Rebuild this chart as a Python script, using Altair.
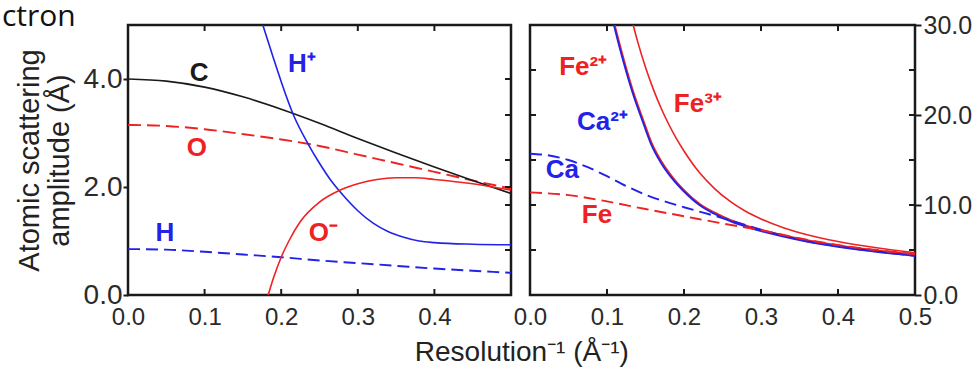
import altair as alt
import pandas as pd

# ---------------- data ----------------
# Left panel: x = resolution^-1 (1/Å), y = atomic scattering amplitude (Å)
grid_x = [0.0, 0.05, 0.10, 0.15, 0.20, 0.25, 0.30, 0.35, 0.40, 0.45, 0.50]
C_y = [4.00, 3.96, 3.85, 3.67, 3.44, 3.18, 2.90, 2.63, 2.37, 2.12, 1.88]
O_y = [3.15, 3.13, 3.07, 2.98, 2.88, 2.76, 2.60, 2.44, 2.28, 2.12, 1.97]
H_y = [0.85, 0.84, 0.80, 0.75, 0.70, 0.64, 0.59, 0.54, 0.49, 0.45, 0.41]
Hplus_x = [0.176, 0.19, 0.20, 0.217, 0.235, 0.25, 0.265, 0.28, 0.30, 0.32, 0.34, 0.36, 0.38, 0.40, 0.45, 0.50]
Hplus_y = [5.00, 4.38, 3.95, 3.30, 2.80, 2.44, 2.12, 1.86, 1.56, 1.33, 1.17, 1.07, 1.00, 0.97, 0.94, 0.93]
Ominus_x = [0.183, 0.19, 0.20, 0.21, 0.225, 0.25, 0.275, 0.30, 0.325, 0.35, 0.375, 0.40, 0.45, 0.50]
Ominus_y = [0.00, 0.32, 0.70, 1.00, 1.36, 1.72, 1.93, 2.06, 2.14, 2.17, 2.17, 2.14, 2.06, 1.94]

# Right panel (right-hand scale 0-30)
Ca_x = [0.0, 0.025, 0.05, 0.075, 0.10, 0.125, 0.15, 0.175, 0.20, 0.225, 0.25, 0.275, 0.30, 0.35, 0.40, 0.45, 0.50]
Ca_y = [15.7, 15.5, 15.0, 14.2, 13.2, 12.1, 11.15, 10.4, 9.75, 9.15, 8.55, 7.9, 7.25, 6.15, 5.4, 4.85, 4.35]
Fe_y = [11.4, 11.1, 10.4, 9.55, 8.75, 7.95, 7.2, 6.3, 5.55, 5.0, 4.55]
Ca2_x = [0.109, 0.116, 0.125, 0.135, 0.145, 0.157, 0.17, 0.185, 0.20, 0.22, 0.24, 0.26, 0.28, 0.30, 0.35, 0.40, 0.45, 0.50]
Ca2_y = [30.0, 27.6, 24.8, 22.0, 19.6, 16.8, 14.7, 12.9, 11.5, 10.0, 9.0, 8.2, 7.6, 7.1, 6.1, 5.35, 4.8, 4.35]
Fe2_x = [0.110, 0.117, 0.126, 0.136, 0.146, 0.158, 0.171, 0.186, 0.20, 0.22, 0.24, 0.26, 0.28, 0.30, 0.35, 0.40, 0.45, 0.50]
Fe2_y = [30.0, 27.7, 24.9, 22.1, 19.7, 16.9, 14.8, 13.0, 11.65, 10.15, 9.15, 8.35, 7.75, 7.25, 6.25, 5.5, 4.95, 4.5]
Fe3_x = [0.134, 0.14, 0.15, 0.16, 0.17, 0.18, 0.19, 0.20, 0.22, 0.24, 0.26, 0.28, 0.30, 0.33, 0.36, 0.40, 0.45, 0.50]
Fe3_y = [30.0, 28.1, 25.3, 22.9, 20.8, 19.0, 17.4, 16.0, 13.6, 11.8, 10.4, 9.3, 8.45, 7.45, 6.7, 5.95, 5.25, 4.7]

# Curve labels
left_labels = ["C", "O", "H", "H⁺", "O⁻"]
left_label_series = ["C", "O", "H", "H+", "O-"]
left_label_x = [0.093, 0.090, 0.048, 0.227, 0.255]
left_label_y = [4.11, 2.72, 1.15, 4.28, 1.15]
right_labels = ["Fe²⁺", "Ca²⁺", "Fe³⁺", "Ca", "Fe"]
right_label_series = ["Fe2+", "Ca2+", "Fe3+", "Ca", "Fe"]
right_label_x = [0.069, 0.094, 0.218, 0.042, 0.087]
right_label_y = [25.3, 19.2, 21.2, 13.9, 8.9]

# Axis tick values
left_x_labels = [0.0, 0.1, 0.2, 0.3, 0.4]
right_x_labels = [0.0, 0.1, 0.2, 0.3, 0.4, 0.5]
inner_x_ticks = [0.1, 0.2, 0.3, 0.4]
left_y_labels = [0.0, 2.0, 4.0]
left_panel_right_ticks = [0.833, 1.667, 2.0, 2.5, 3.333, 4.0]
right_y_labels = [0.0, 10.0, 20.0, 30.0]
right_inner_y_ticks = [5.0, 10.0, 15.0, 20.0, 25.0]

crop_text = "ctron"
x_title = "Resolution⁻¹ (Å⁻¹)"
y_title = ["Atomic scattering", "amplitude (Å)"]

# ---------------- styling ----------------
RED = "#ee2222"
BLUE = "#2222e8"
BLACK = "#1a1a1a"
FONT = "Liberation Sans"
W1, W2, H = 383, 385, 270
TICK = 6

left_series = ["C", "O", "H", "H+", "O-"]
left_colors = [BLACK, RED, BLUE, BLUE, RED]
right_series = ["Fe2+", "Ca2+", "Fe3+", "Ca", "Fe"]
right_colors = [RED, BLUE, RED, BLUE, RED]


def line_layer(xs, ys, color, xenc, yenc, dash=None, width=1.6):
    kw = dict(color=color, strokeWidth=width, interpolate="monotone", clip=True)
    if dash:
        kw["strokeDash"] = dash
    return alt.Chart(pd.DataFrame({"x": xs, "y": ys})).mark_line(**kw).encode(x=xenc, y=yenc)


def x_edge_ticks(vals, xenc, top=True):
    y0, y1 = (0, TICK) if top else (H, H - TICK)
    return alt.Chart(pd.DataFrame({"x": vals})).mark_rule(color=BLACK, strokeWidth=2).encode(
        x=xenc, y=alt.value(y0), y2=alt.value(y1))


def y_edge_ticks(vals, yenc, xpix, inward):
    return alt.Chart(pd.DataFrame({"y": vals})).mark_rule(color=BLACK, strokeWidth=2).encode(
        y=yenc, x=alt.value(xpix), x2=alt.value(xpix + inward))


def label_layer(texts, series, xs, ys, domain, colors, xenc, yenc):
    df = pd.DataFrame({"label": texts, "series": series, "x": xs, "y": ys})
    return alt.Chart(df).mark_text(font=FONT, fontSize=26, fontWeight="bold",
                                   align="center", baseline="middle").encode(
        x=xenc, y=yenc, text="label:N",
        color=alt.Color("series:N", scale=alt.Scale(domain=domain, range=colors), legend=None))


# ---------------- left panel ----------------
xl = alt.X("x:Q", scale=alt.Scale(domain=[0, 0.5], nice=False, zero=False),
           axis=alt.Axis(values=left_x_labels, format=".1f", ticks=False, tickSize=0,
                         labelPadding=10, labelFontSize=24, labelFlush=False, title=None))
yl = alt.Y("y:Q", scale=alt.Scale(domain=[0, 5], nice=False),
           axis=alt.Axis(values=left_y_labels, format=".1f", tickSize=5, tickWidth=2,
                         tickColor=BLACK, labelPadding=1, labelFontSize=28, labelFlush=False,
                         title=y_title, titleFontSize=29, titleLineHeight=30,
                         titlePadding=9))

crop = alt.Chart(pd.DataFrame({"t": [crop_text]})).mark_text(
    font="Open Sans", fontSize=30, align="left", baseline="top", color="#111").encode(
    x=alt.value(-126), y=alt.value(-23), text="t:N")

left = alt.layer(
    line_layer(grid_x, O_y, RED, xl, yl, dash=[13, 6], width=1.9),
    line_layer(grid_x, H_y, BLUE, xl, yl, dash=[12, 6], width=1.9),
    line_layer(grid_x, C_y, BLACK, xl, yl),
    line_layer(Hplus_x, Hplus_y, BLUE, xl, yl),
    line_layer(Ominus_x, Ominus_y, RED, xl, yl),
    x_edge_ticks(inner_x_ticks, xl, top=True),
    x_edge_ticks(inner_x_ticks, xl, top=False),
    y_edge_ticks(left_panel_right_ticks, yl, W1, -TICK),
    label_layer(left_labels, left_label_series, left_label_x, left_label_y,
                left_series, left_colors, xl, yl),
    crop,
).properties(width=W1, height=H)

# ---------------- right panel ----------------
xr = alt.X("x:Q", scale=alt.Scale(domain=[0, 0.5], nice=False, zero=False),
           axis=alt.Axis(values=right_x_labels, format=".1f", ticks=False, tickSize=0,
                         labelPadding=10, labelFontSize=24, labelFlush=False, title=None))
yr = alt.Y("y:Q", scale=alt.Scale(domain=[0, 30], nice=False),
           axis=alt.Axis(orient="right", values=right_y_labels, format=".1f", tickSize=6,
                         tickWidth=2, tickColor=BLACK, labelPadding=2, labelFontSize=25,
                         labelFlush=False, title=None))

right = alt.layer(
    line_layer(Fe3_x, Fe3_y, RED, xr, yr),
    line_layer(Fe2_x, Fe2_y, RED, xr, yr, width=1.8),
    line_layer(Ca2_x, Ca2_y, BLUE, xr, yr, width=1.8),
    line_layer(Ca_x, Ca_y, BLUE, xr, yr, dash=[12, 6], width=1.9),
    line_layer(grid_x, Fe_y, RED, xr, yr, dash=[12, 6], width=1.9),
    x_edge_ticks(inner_x_ticks, xr, top=True),
    x_edge_ticks(inner_x_ticks, xr, top=False),
    y_edge_ticks(right_inner_y_ticks, yr, 0, TICK),
    y_edge_ticks(right_inner_y_ticks, yr, W2, -TICK),
    label_layer(right_labels, right_label_series, right_label_x, right_label_y,
                right_series, right_colors, xr, yr),
).properties(width=W2, height=H)

chart = alt.hconcat(left, right, spacing=19, bounds="flush").resolve_scale(
    color="independent").properties(
    title=alt.TitleParams(x_title, orient="bottom", anchor="middle", fontSize=28,
                          font=FONT, fontWeight="normal", color="#222", offset=9, dx=35),
    padding={"left": 0, "top": 0, "right": 0, "bottom": 0},
).configure_view(stroke=BLACK, strokeWidth=2.5).configure_axis(
    labelFont=FONT, titleFont=FONT, labelColor="#2a2a2a", titleColor="#222",
    titleFontWeight="normal", domain=False, grid=False)

chart.save("out.html", embed_options={"renderer": "svg", "actions": False})
